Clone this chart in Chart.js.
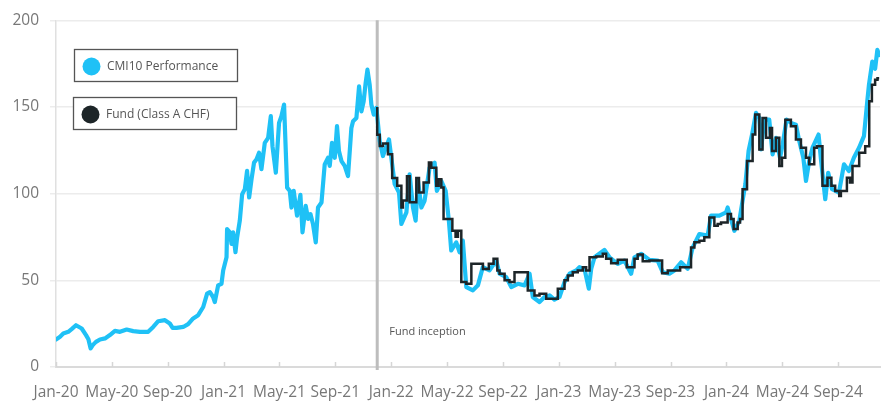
<!DOCTYPE html>
<html>
<head>
<meta charset="utf-8">
<script src="https://cdn.jsdelivr.net/npm/chart.js@4.4.1/dist/chart.umd.min.js"></script>
<style>
  html, body { margin: 0; padding: 0; background: #fff; }
  #wrap { width: 888px; height: 402px; }
</style>
</head>
<body>
<div id="wrap"><canvas id="perfChart" width="888" height="402"></canvas></div>
<script>
// x values are months since Jan-20
const tickLabels = ['Jan-20', 'May-20', 'Sep-20', 'Jan-21', 'May-21', 'Sep-21', 'Jan-22', 'May-22',
  'Sep-22', 'Jan-23', 'May-23', 'Sep-23', 'Jan-24', 'May-24', 'Sep-24'];
const yTicks = [0, 50, 100, 150, 200];
const inceptionMonth = 23.0;

const cmiMonths = [
  0.00, 0.29, 0.52, 0.88, 1.14, 1.43, 1.84, 2.15, 2.32, 2.48, 2.63, 2.86, 3.15, 3.51, 3.86, 4.22,
  4.58, 5.06, 5.53, 6.01, 6.60, 6.96, 7.32, 7.80, 8.15, 8.35, 8.63, 9.11, 9.46, 9.82, 10.18, 10.54,
  10.82, 11.02, 11.25, 11.37, 11.61, 11.85, 11.97, 12.21, 12.25, 12.45, 12.57, 12.68, 12.85, 12.97,
  13.16, 13.33, 13.52, 13.68, 13.83, 14.00, 14.18, 14.36, 14.54, 14.71, 14.95, 15.19, 15.38, 15.50,
  15.74, 15.97, 16.14, 16.33, 16.55, 16.74, 16.86, 17.02, 17.26, 17.50, 17.65, 17.88, 18.05, 18.22,
  18.40, 18.60, 18.76, 19.01, 19.24, 19.48, 19.60, 19.76, 19.96, 20.12, 20.26, 20.44, 20.67, 20.91,
  21.15, 21.27, 21.51, 21.70, 21.87, 22.03, 22.17, 22.30, 22.46, 22.58, 22.75, 22.94,
  23.18, 23.41, 23.84, 24.01, 24.25, 24.56, 24.73, 25.09, 25.32, 25.56, 25.75, 25.92, 26.16, 26.39,
  26.75, 27.11, 27.27, 27.59, 27.90, 28.13, 28.30, 28.66, 28.90, 29.13, 29.38, 29.85, 30.21, 30.56,
  31.04, 31.52, 31.76, 32.24, 32.60, 33.07, 33.55, 33.91, 34.14, 34.62, 34.98, 35.34, 35.69, 36.05,
  36.41, 36.77, 37.25, 37.48, 37.84, 38.15, 38.32, 38.56, 39.27, 39.63, 40.22, 40.70, 41.18, 41.42,
  41.90, 42.49, 43.08, 43.44, 43.92, 44.28, 44.76, 45.23, 45.59, 46.07, 46.66, 46.90, 47.50, 47.98,
  48.09, 48.26, 48.57, 48.93, 49.16, 49.36, 49.59, 49.84, 50.12, 50.36, 50.48, 50.72, 51.07, 51.31,
  51.55, 51.84, 52.03, 52.31, 52.63, 52.98, 53.22, 53.51, 53.70, 53.93, 54.17, 54.60, 54.77, 55.08,
  55.29, 55.57, 56.06, 56.42, 56.77, 57.13, 57.50, 57.85, 58.09, 58.21, 58.45, 58.65, 58.81, 58.94
];
const cmiValues = [
  15.9, 17.5, 19.3, 20.3, 22.0, 24.1, 22.2, 18.4, 16.0, 10.7, 12.6, 14.5, 15.9, 16.5, 18.4, 20.8,
  20.3, 21.6, 20.7, 20.3, 20.3, 23.1, 26.4, 27.0, 25.1, 22.6, 22.6, 23.1, 24.7, 28.0, 29.9, 34.6,
  42.3, 43.2, 40.4, 37.5, 47.1, 48.0, 55.7, 63.3, 79.6, 77.7, 71.0, 77.7, 66.2, 74.8,
  84.4, 99.7, 102.6, 113.1, 97.8, 108.3, 117.9, 119.8, 123.6, 114.1, 129.3, 132.2, 144.7, 127.4,
  112.1, 140.8, 144.7, 151.4, 103.5, 101.6, 92.0, 101.6, 87.3, 99.3, 77.7, 93.0, 85.4, 88.2,
  82.5, 71.9, 92.0, 94.9, 116.9, 120.7, 116.0, 129.3, 120.7, 138.9, 124.6, 118.8, 116.0, 110.2,
  137.9, 141.8, 143.7, 161.9, 147.5, 153.3, 163.8, 171.5, 162.8, 151.4, 145.6, 149.4,
  130.3, 121.7, 131.3, 120.7, 105.5, 100.6, 82.5, 89.2, 111.2, 92.0, 84.4, 107.3, 92.0, 95.9,
  115.0, 117.9, 101.6, 107.3, 101.6, 84.4, 67.2, 71.9, 66.2, 72.9, 46.1, 44.2, 47.1, 57.6,
  55.7, 61.4, 53.8, 51.8, 46.1, 48.0, 47.1, 53.8, 40.4, 37.5, 40.4, 41.3, 38.9, 40.4,
  49.0, 53.8, 55.7, 57.6, 56.6, 45.2, 56.6, 63.3, 67.5, 63.3, 59.5, 61.4, 53.8, 63.3,
  65.3, 61.8, 61.4, 54.7, 53.8, 55.7, 60.4, 56.6, 69.0, 76.7, 75.8, 87.3, 87.3, 89.2,
  92.0, 87.3, 78.6, 84.4, 95.9, 105.5, 124.6, 134.1, 146.6, 143.7, 125.5, 142.7, 142.7, 122.7,
  132.2, 120.7, 128.4, 142.7, 140.8, 139.8, 130.3, 120.7, 107.3, 118.8, 126.5, 134.1, 120.0, 96.8,
  112.0, 102.6, 100.6, 116.9, 113.1, 120.7, 126.5, 133.2, 153.3, 162.8, 176.2, 172.0, 182.9, 180.0
];

const fundMonths = [
  23.00, 23.18, 23.41, 23.77, 24.07, 24.43, 24.73, 24.84, 25.13, 25.32, 25.80, 25.99, 26.32, 26.70,
  26.87, 27.23, 27.40, 27.59, 27.75, 28.38, 28.61, 28.78, 29.02, 29.38, 29.74, 30.57, 30.99, 31.33,
  31.60, 31.76, 32.12, 32.47, 32.83, 33.78, 34.26, 34.62, 35.10, 35.93, 36.41, 36.65, 37.00, 37.36,
  37.72, 37.96, 38.20, 38.68, 39.15, 39.39, 39.75, 40.22, 40.87, 41.42, 41.65, 42.01, 42.49, 43.40,
  43.80, 44.69, 45.47, 45.71, 46.07, 46.42, 46.78, 47.14, 47.38, 47.62, 48.09, 48.33, 48.52, 48.81,
  48.98, 49.16, 49.48, 49.88, 50.07, 50.36, 50.59, 50.84, 51.12, 51.27, 51.55, 51.79, 51.98, 52.22,
  52.62, 52.98, 53.34, 53.70, 53.93, 54.29, 54.48, 54.88, 55.24, 55.52, 55.79, 56.08, 56.20, 56.63,
  56.85, 57.03, 57.51, 57.94, 58.23, 58.42, 58.65, 58.82, 58.94
];
const fundValues = [
  150.0, 134.0, 127.5, 129.0, 122.7, 109.0, 104.5, 92.0, 96.0, 110.0, 95.0, 109.0, 100.6, 106.4,
  118.0, 115.0, 104.5, 108.3, 103.5, 85.4, 78.6, 75.2, 78.6, 49.0, 48.0, 59.5, 56.6, 59.5,
  62.4, 55.7, 53.8, 50.0, 49.0, 54.7, 44.2, 41.3, 42.3, 39.4, 45.2, 50.0, 52.8, 54.7,
  55.7, 57.6, 55.7, 63.3, 63.7, 65.3, 62.4, 59.9, 61.8, 57.6, 62.4, 64.9, 61.0, 61.4,
  54.1, 55.7, 57.6, 69.0, 71.9, 72.9, 74.8, 86.3, 81.5, 82.5, 83.4, 88.2, 85.4, 79.6,
  83.4, 85.4, 102.6, 118.8, 134.1, 145.6, 125.5, 143.7, 132.2, 137.9, 124.6, 132.2, 116.0, 120.7,
  142.7, 138.9, 131.3, 126.5, 120.7, 116.9, 126.5, 127.4, 104.5, 109.2, 104.5, 101.6, 98.7, 101.6,
  109.2, 106.4, 116.0, 123.6, 127.4, 153.3, 162.8, 165.7, 166.6
];

const cmiColor = '#1fc1f6';
const fundColor = '#1d2528';
const textColor = '#777777';
const fontFamily = "'Open Sans', 'Noto Sans', sans-serif";

const toPoints = (xs, ys) => xs.map((x, i) => ({ x: x, y: ys[i] }));

// vertical line + label at fund start
const inceptionPlugin = {
  id: 'inception',
  beforeDatasetsDraw(chart) {
    const { ctx, chartArea, scales } = chart;
    const x = scales.x.getPixelForValue(inceptionMonth);
    ctx.save();
    ctx.strokeStyle = '#bdbdbd';
    ctx.lineWidth = 3;
    ctx.beginPath();
    ctx.moveTo(x, chartArea.top);
    ctx.lineTo(x, chartArea.bottom + 3);
    ctx.stroke();
    ctx.fillStyle = '#555';
    ctx.font = "11px " + fontFamily;
    ctx.textBaseline = 'middle';
    ctx.fillText('Fund inception', x + 12, scales.y.getPixelForValue(20.3));
    ctx.restore();
  }
};

// small tick marks above the x axis line
const xTickPlugin = {
  id: 'xTicks',
  afterDraw(chart) {
    const { ctx, chartArea, scales } = chart;
    ctx.save();
    ctx.strokeStyle = '#d6d6d6';
    ctx.lineWidth = 1.5;
    scales.x.ticks.forEach((t) => {
      const x = Math.round(scales.x.getPixelForValue(t.value)) + 0.5;
      ctx.beginPath();
      ctx.moveTo(x, chartArea.bottom - 5);
      ctx.lineTo(x, chartArea.bottom);
      ctx.stroke();
    });
    ctx.restore();
  }
};

// legend drawn as two separate boxes
const boxLegendPlugin = {
  id: 'boxLegend',
  afterDraw(chart) {
    const { ctx } = chart;
    const boxes = [
      { ds: 1, x: 74, y: 49 },
      { ds: 0, x: 73, y: 97 }
    ];
    ctx.save();
    boxes.forEach((b) => {
      const ds = chart.data.datasets[b.ds];
      ctx.strokeStyle = '#555';
      ctx.lineWidth = 1.3;
      ctx.fillStyle = '#fff';
      ctx.fillRect(b.x, b.y, 163, 32);
      ctx.strokeRect(b.x + 0.5, b.y + 0.5, 163, 32);
      ctx.fillStyle = ds.borderColor;
      ctx.beginPath();
      ctx.arc(b.x + 17.5, b.y + 17.5, 9, 0, Math.PI * 2);
      ctx.fill();
      ctx.fillStyle = '#555';
      ctx.font = "12px " + fontFamily;
      ctx.textBaseline = 'middle';
      ctx.fillText(ds.label, b.x + 33, b.y + 17.5);
    });
    ctx.restore();
  }
};

new Chart(document.getElementById('perfChart'), {
  type: 'line',
  data: {
    datasets: [
      {
        label: 'Fund (Class A CHF)',
        data: toPoints(fundMonths, fundValues),
        borderColor: fundColor,
        backgroundColor: fundColor,
        borderWidth: 2.5,
        stepped: 'after',
        pointRadius: 0,
        fill: false,
        order: 0
      },
      {
        label: 'CMI10 Performance',
        data: toPoints(cmiMonths, cmiValues),
        borderColor: cmiColor,
        backgroundColor: cmiColor,
        borderWidth: 4.2,
        borderJoinStyle: 'round',
        borderCapStyle: 'round',
        tension: 0,
        pointRadius: 0,
        fill: false,
        order: 1
      }
    ]
  },
  options: {
    responsive: false,
    devicePixelRatio: 1,
    animation: false,
    layout: { padding: { top: 18.5, right: 8, left: 0, bottom: 0 } },
    plugins: {
      legend: { display: false },
      tooltip: { enabled: false }
    },
    scales: {
      x: {
        type: 'linear',
        min: 0,
        max: 59,
        afterFit: (scale) => { scale.height = 35; },
        afterBuildTicks: (scale) => {
          scale.ticks = tickLabels.map((_, i) => ({ value: i * 4 }));
        },
        grid: { display: false, drawTicks: false },
        border: { display: true, color: '#dadada', width: 2 },
        ticks: {
          callback: (v) => tickLabels[Math.round(v / 4)],
          color: textColor,
          font: { family: fontFamily, size: 15.5 },
          padding: 16,
          maxRotation: 0,
          autoSkip: false
        }
      },
      y: {
        min: 0,
        max: 200,
        afterFit: (scale) => { scale.width = 56; },
        afterBuildTicks: (scale) => {
          scale.ticks = yTicks.map((v) => ({ value: v }));
        },
        grid: { color: '#ececec', lineWidth: 1.5, tickLength: 6, drawTicks: true },
        border: { display: true, color: '#e0e0e0', width: 1.5 },
        ticks: {
          color: textColor,
          font: { family: fontFamily, size: 15.5 },
          padding: 11
        }
      }
    }
  },
  plugins: [inceptionPlugin, xTickPlugin, boxLegendPlugin]
});
</script>
</body>
</html>
